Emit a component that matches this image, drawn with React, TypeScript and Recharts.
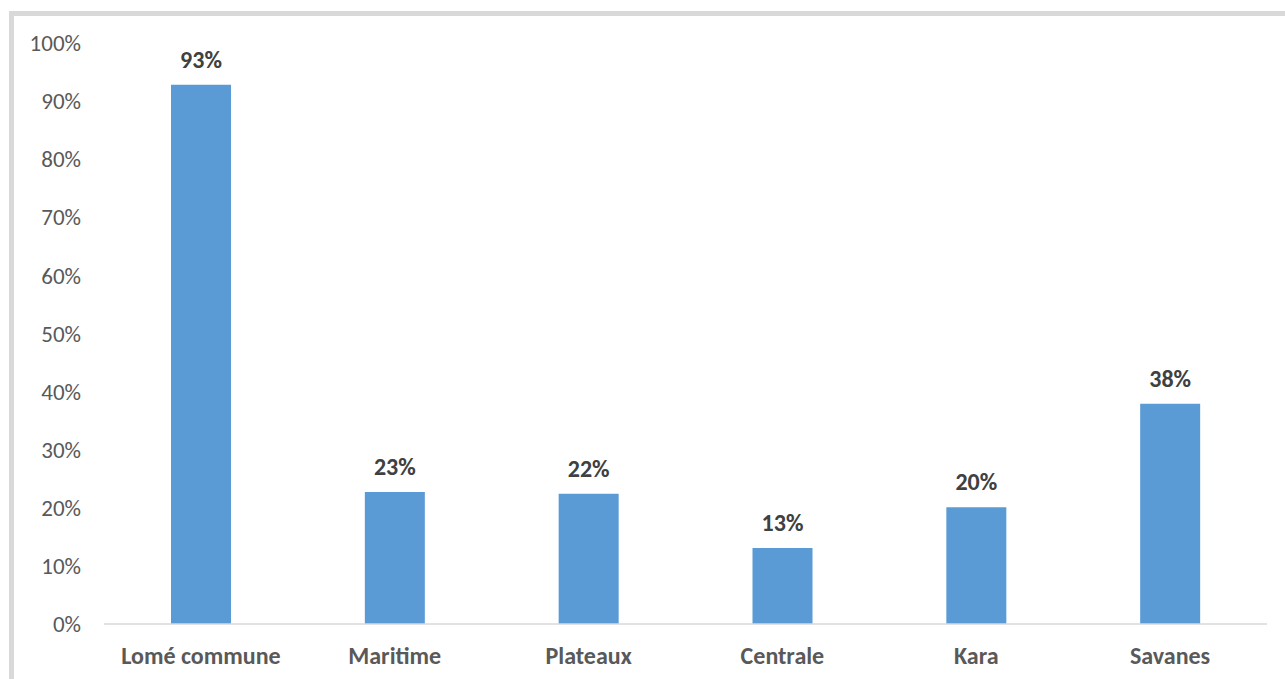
import { BarChart, Bar, XAxis, YAxis, LabelList } from "recharts";

const regions = ["Lomé commune", "Maritime", "Plateaux", "Centrale", "Kara", "Savanes"];
const shares = [0.928, 0.227, 0.224, 0.131, 0.201, 0.379];
const yTicks = [0, 0.1, 0.2, 0.3, 0.4, 0.5, 0.6, 0.7, 0.8, 0.9, 1];

const data = regions.map((name, i) => ({ name, value: shares[i] }));

const pct = (v: number) => `${Math.round(v * 100)}%`;
const font = "Carlito, Calibri, 'Liberation Sans', Arial, sans-serif";

export default function App() {
  return (
    <div
      style={{
        position: "absolute",
        left: 0,
        top: 0,
        width: 1285,
        height: 679,
        overflow: "hidden",
        background: "#fff",
        fontFamily: font,
      }}
    >
      {/* frame, runs off the right and bottom edge like the screenshot */}
      <div
        style={{
          position: "absolute",
          left: 9,
          top: 11,
          width: 1400,
          height: 800,
          border: "5px solid #d9d9d9",
          boxSizing: "border-box",
        }}
      />
      <div style={{ position: "absolute", left: 0, top: 0 }}>
        <BarChart
          width={1285}
          height={679}
          data={data}
          margin={{ top: 43, right: 18, bottom: 25, left: 24 }}
        >
          <XAxis
            dataKey="name"
            axisLine={{ stroke: "#d9d9d9", strokeWidth: 1.5 }}
            tickLine={false}
            tickSize={0}
            tickMargin={23}
            interval={0}
            tick={{ fill: "#595959", fontSize: 24, fontWeight: 700, fontFamily: font }}
          />
          <YAxis
            width={80}
            domain={[0, 1]}
            ticks={yTicks}
            tickFormatter={pct}
            axisLine={false}
            tickLine={false}
            tickSize={0}
            tickMargin={23}
            tick={{ fill: "#595959", fontSize: 23, fontFamily: font }}
          />
          <Bar dataKey="value" fill="#5b9bd5" barSize={60} isAnimationActive={false}>
            <LabelList
              dataKey="value"
              position="top"
              offset={17}
              formatter={(v: any) => pct(Number(v))}
              style={{ fill: "#404040", fontSize: 24, fontWeight: 700, fontFamily: font }}
            />
          </Bar>
        </BarChart>
      </div>
    </div>
  );
}
